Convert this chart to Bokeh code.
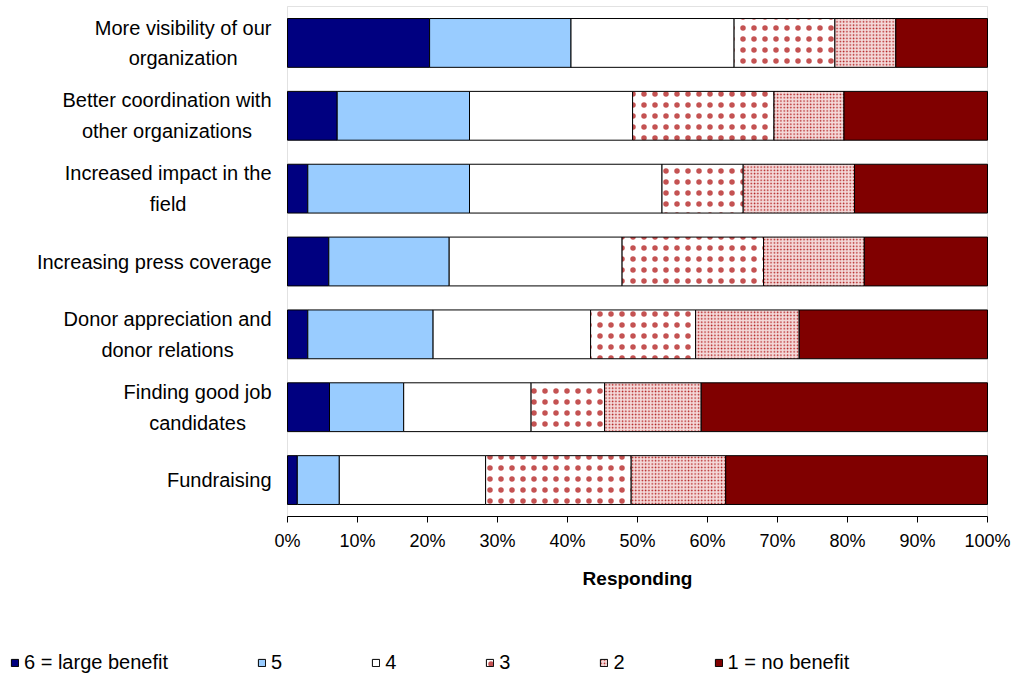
from bokeh.plotting import figure
from bokeh.models import (ColumnDataSource, Range1d, FixedTicker, BoxAnnotation,
                          PrintfTickFormatter, Legend, LegendItem, LinearAxis)
from bokeh.core.properties import value
from bokeh.embed import file_html
from bokeh.resources import INLINE

# Survey categories (top to bottom) and their wrapped labels
categories = [
    "More visibility of our organization",
    "Better coordination with other organizations",
    "Increased impact in the field",
    "Increasing press coverage",
    "Donor appreciation and donor relations",
    "Finding good job candidates",
    "Fundraising",
]
wrapped_labels = [
    "More visibility of our\norganization",
    "Better coordination with\nother organizations",
    "Increased impact in the\nfield",
    "Increasing press coverage",
    "Donor appreciation and\ndonor relations",
    "Finding good job\ncandidates",
    "Fundraising",
]

# Share of respondents (%) per benefit rating
series_names = ["6 = large benefit", "5", "4", "3", "2", "1 = no benefit"]
rating_6 = [20.3, 7.1, 2.9, 5.9, 2.9, 6.0, 1.4]
rating_5 = [20.2, 18.9, 23.1, 17.2, 17.9, 10.6, 6.0]
rating_4 = [23.3, 23.3, 27.5, 24.7, 22.5, 18.2, 20.9]
rating_3 = [14.4, 20.2, 11.6, 20.2, 15.0, 10.5, 20.8]
rating_2 = [8.7, 10.0, 15.9, 14.4, 14.8, 13.8, 13.5]
rating_1 = [13.1, 20.5, 19.0, 17.6, 26.9, 40.9, 37.4]

x_ticks = list(range(0, 101, 10))

FONT = "Liberation Sans"

# Page layout in pixels: the whole canvas is the drawing frame, the bar
# area sits inside it with room for labels, axis title and legend.
W, H = 1012, 677
AREA_LEFT, AREA_RIGHT = 287, 987
AREA_TOP, AREA_BOTTOM = 6, 516

n = len(categories)
ypos = [n - 1 - i for i in range(n)]  # first category on top

px_x = (AREA_RIGHT - AREA_LEFT) / 100.0          # pixels per percent
px_y = (AREA_BOTTOM - AREA_TOP) / float(n)        # pixels per category band
x_range = Range1d(-AREA_LEFT / px_x, 100 + (W - AREA_RIGHT) / px_x)
y_range = Range1d(-0.5 - (H - AREA_BOTTOM) / px_y, n - 0.5 + AREA_TOP / px_y)

keys = ["r6", "r5", "r4", "r3", "r2", "r1"]
source = ColumnDataSource(dict(y=ypos, r6=rating_6, r5=rating_5, r4=rating_4,
                               r3=rating_3, r2=rating_2, r1=rating_1,
                               label=wrapped_labels, zero=[0] * n))

p = figure(width=W, height=H, min_border=0,
           x_range=x_range, y_range=y_range,
           x_axis_location=None, y_axis_location=None,
           output_backend="svg", toolbar_location=None,
           background_fill_color="white", border_fill_color="white")
p.outline_line_color = None
p.grid.visible = False

# Gray border of the bar area
p.add_layout(BoxAnnotation(left=0, right=100, bottom=-0.5, top=n - 0.5,
                           fill_alpha=0, line_color="#A0A0A0", line_width=1,
                           level="underlay"))

fills = ["#000080", "#99CCFF", "#FFFFFF", "#FFFFFF", "#F4DADA", "#800000"]
hatches = [" ", " ", " ", "dot", "dot", " "]
hatch_scales = [12, 12, 12, 11, 3.3, 12]
hatch_alphas = [1, 1, 1, 0.75, 1, 1]

renderers = p.hbar_stack(keys, y="y", height=0.67, source=source,
                         fill_color=fills, line_color="#000000", line_width=1,
                         hatch_pattern=hatches, hatch_color="#B01818",
                         hatch_scale=hatch_scales, hatch_alpha=hatch_alphas,
                         hatch_weight=1)

# Category labels: block right-aligned beside the bars, lines centred
p.text(x="zero", y="y", text="label", source=source,
       x_offset=-16, anchor=value("center_right"), text_align="center",
       text_baseline="middle", text_font=value(FONT), text_font_size="20px",
       text_color="#000000", text_line_height=1.4)

# Percentage axis along the bottom edge of the bar area
xa = LinearAxis(fixed_location=-0.5, bounds=(0, 100),
                ticker=FixedTicker(ticks=x_ticks),
                formatter=PrintfTickFormatter(format="%d%%"))
xa.axis_line_color = "#000000"
xa.major_tick_line_color = "#000000"
xa.major_tick_out = 6
xa.major_tick_in = 0
xa.minor_tick_line_color = None
xa.major_label_text_font = FONT
xa.major_label_text_font_size = "18px"
xa.major_label_text_color = "#000000"
xa.major_label_standoff = 8
p.add_layout(xa, "below")

# Axis title centred under the bar area
p.text(x=[50], y=[-0.5], text=["Responding"], y_offset=62,
       text_align="center", text_baseline="middle", text_font=value(FONT),
       text_font_size="19px", text_font_style="bold", text_color="#000000")

legend = Legend(items=[LegendItem(label=name, renderers=[r])
                       for name, r in zip(series_names, renderers)],
                location=(10, 3), orientation="horizontal",
                glyph_width=9, glyph_height=9, label_standoff=5,
                label_width=0, spacing=89, padding=0, margin=0,
                border_line_color=None, background_fill_alpha=0,
                label_text_font=FONT, label_text_font_size="20px",
                label_text_color="#000000", label_height=20)
p.add_layout(legend, "center")

open("out.html", "w").write(file_html(p, INLINE))
